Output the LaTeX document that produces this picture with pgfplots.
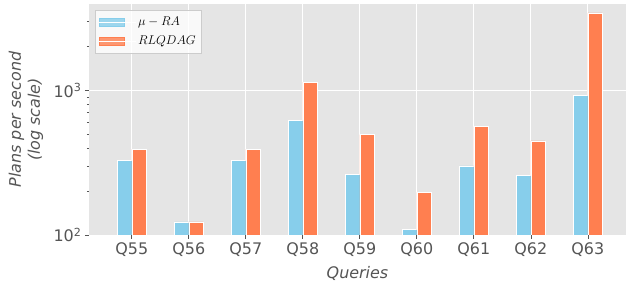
\documentclass[border=0pt]{standalone}
\usepackage{fix-cm}
\usepackage{fontspec}
\setmainfont{DejaVu Sans}
\usepackage{pgfplots}
\pgfplotsset{compat=1.18}
\definecolor{bg}{HTML}{E5E5E5}
\definecolor{txt}{HTML}{555555}
\definecolor{skyb}{HTML}{87CEEB}
\definecolor{coralc}{HTML}{FF7F50}
\begin{document}
\begin{tikzpicture}
\useasboundingbox (-89bp,-50bp) rectangle (537bp,235bp);
\begin{axis}[
  at={(0,0)}, anchor=south west,
  scale only axis, width=537bp, height=231bp,
  ymode=log, log basis y=10, ymin=100, ymax=3950,
  xmin=-0.75, xmax=8.67,
  axis background/.style={fill=bg},
  axis line style={draw=none},
  xtick={0,...,8},
  xticklabels={Q55,Q56,Q57,Q58,Q59,Q60,Q61,Q62,Q63},
  ytick={100,1000},
  yticklabels={10\textsuperscript{2},10\textsuperscript{3}},
  minor ytick={200,300,400,500,600,700,800,900,2000,3000},
  xmajorgrids, ymajorgrids,
  major grid style={white, line width=0.8bp},
  tick pos=left, tick align=outside,
  major tick length=4bp, minor tick length=2bp,
  every tick/.style={txt, line width=0.6bp},
  ticklabel style={font=\fontsize{16}{19}\selectfont, text=txt},
  every axis x label/.style={at={(axis description cs:0.5,0)}, yshift=-38bp, anchor=center},
  every axis y label/.style={at={(axis description cs:0,0.5)}, xshift=-63bp, anchor=center, rotate=90},
  xlabel={Queries},
  ylabel={Plans per second\\(log scale)},
  label style={font=\fontsize{16}{19}\selectfont\itshape, text=txt, align=center},
  ybar=0pt, bar width=0.25,
  legend style={at={(axis description cs:0,1)}, xshift=6bp, yshift=-6bp, anchor=north west,
    fill=white, fill opacity=0.8, text opacity=1, draw=white!80!black,
    font=\fontsize{12.7}{15}\selectfont, legend cell align=left,
    inner xsep=3.5bp, inner ysep=4.5bp, row sep=4bp,
    nodes={inner sep=2bp, text height=9bp, text depth=2bp}},
]
\addplot[fill=skyb, draw=white, line width=0.5bp,
  legend image code/.code={\fill[skyb] (0bp,-4bp) rectangle (25bp,4bp); \path (0bp,0bp) -- (37bp,0bp);}]
  coordinates {
(0,328) (1,123) (2,328) (3,617) (4,261) (5,109.5) (6,301) (7,259) (8,928)};
\addlegendentry{$\mu-RA$}
\addplot[fill=coralc, draw=white, line width=0.5bp,
  legend image code/.code={\fill[coralc] (0bp,-4bp) rectangle (25bp,4bp); \path (0bp,0bp) -- (37bp,0bp);}]
  coordinates {
(0,393) (1,123) (2,393) (3,1140) (4,493) (5,197) (6,560) (7,447) (8,3435)};
\addlegendentry{$RLQDAG$}
\end{axis}
\end{tikzpicture}
\end{document}
